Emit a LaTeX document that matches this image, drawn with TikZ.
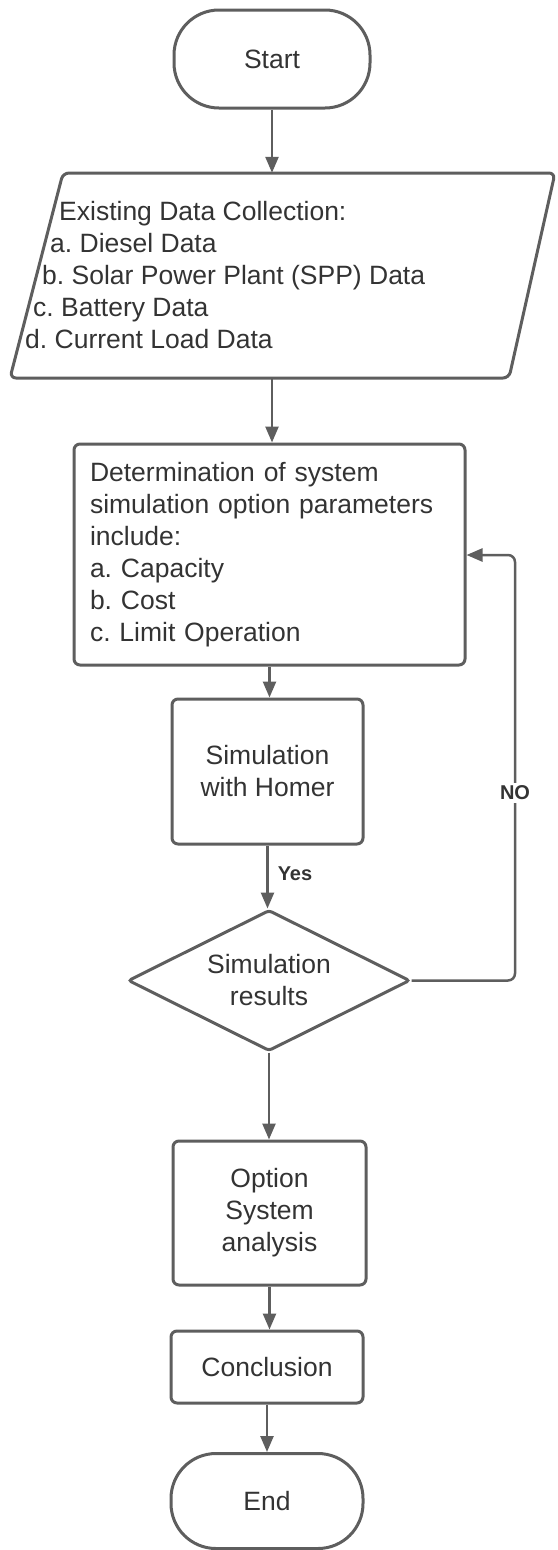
\documentclass[tikz,border=0pt]{standalone}
\usepackage{fontspec}
\setmainfont{Liberation Sans}
\usetikzlibrary{arrows.meta,shapes.geometric}
\definecolor{ln}{HTML}{5E5E5E}
\definecolor{tx}{HTML}{333333}
\frenchspacing
\begin{document}
\begin{tikzpicture}[x=1pt,y=-1pt,
  txt/.style={text=tx, font=\fontsize{26.5}{32}\selectfont},
  box/.style={txt, draw=ln, line width=3pt, rounded corners=6pt, inner sep=0pt, align=center},
  term/.style={box, rounded corners=45pt},
  arr/.style={draw=ln, line width=2.5pt, -{Triangle[length=16pt,width=13pt]}},
  lbl/.style={font=\fontsize{20}{24}\selectfont\bfseries, text=tx, inner sep=3pt}]
\useasboundingbox (0,0) rectangle (557,1550);

% Start
\node[term, minimum width=196pt, minimum height=98pt] (start) at (272,59) {Start};

% Data collection (parallelogram)
\node[minimum width=547pt, minimum height=205pt, inner sep=0pt] (data) at (283.5,275.5) {};
\draw[draw=ln, line width=3pt, rounded corners=6pt]
  (63,173) -- (555,173) -- (509,378) -- (10,378) -- cycle;
\node[txt, anchor=west, inner sep=0pt, align=left] (datatext) at (25,275)
  {\hspace*{34pt}Existing Data Collection:\\
   \hspace*{25pt}a. Diesel Data\\
   \hspace*{17pt}b. Solar Power Plant (SPP) Data\\
   \hspace*{8pt}c. Battery Data\\
   d. Current Load Data};

% Parameters
\node[box, minimum width=391pt, minimum height=221pt, text width=359pt, align=left] (param) at (269.5,554.5)
  {Determination of system\\
   simulation option parameters\\
   include:\\
   a. Capacity\\
   b. Cost\\
   c. Limit Operation};

% Simulation with Homer
\node[box, minimum width=191pt, minimum height=145pt] (homer) at (267.5,771.5) {Simulation\\with Homer};

% Decision
\node[txt, draw=ln, line width=3pt, diamond, aspect=2, minimum width=282pt, minimum height=141pt,
      inner sep=0pt, align=center, rounded corners=3pt] (dec) at (269,980.5) {Simulation\\results};

% Option system analysis
\node[box, minimum width=193pt, minimum height=144pt] (opt) at (269.5,1213) {Option\\System\\analysis};

% Conclusion
\node[box, minimum width=192pt, minimum height=72pt] (concl) at (267,1367) {Conclusion};

% End
\node[term, minimum width=192pt, minimum height=95pt] (end) at (267,1501) {End};

% Connectors
\draw[arr] (start.south) -- (start.south |- data.north);
\draw[arr] (start.south |- data.south) -- (start.south |- param.north);
\draw[arr] (param.south) -- (param.south |- homer.north);
\draw[arr] (homer.south) -- (homer.south |- dec.north)
  node[lbl, anchor=west, pos=0.45, xshift=6pt] (yes) {Yes};
\draw[arr] (dec.south) -- (dec.south |- opt.north);
\draw[arr] (opt.south) -- (opt.south |- concl.north);
\draw[arr] (concl.south) -- (concl.south |- end.north);

\coordinate (fbb) at (515,980.5);
\coordinate (fbt) at (515,555);
\draw[arr, rounded corners=7pt] (dec.east) -- (fbb) -- (fbt) -- (param.east |- fbt);
\node[lbl, fill=white] (no) at (515,793) {NO};
\end{tikzpicture}
\end{document}
